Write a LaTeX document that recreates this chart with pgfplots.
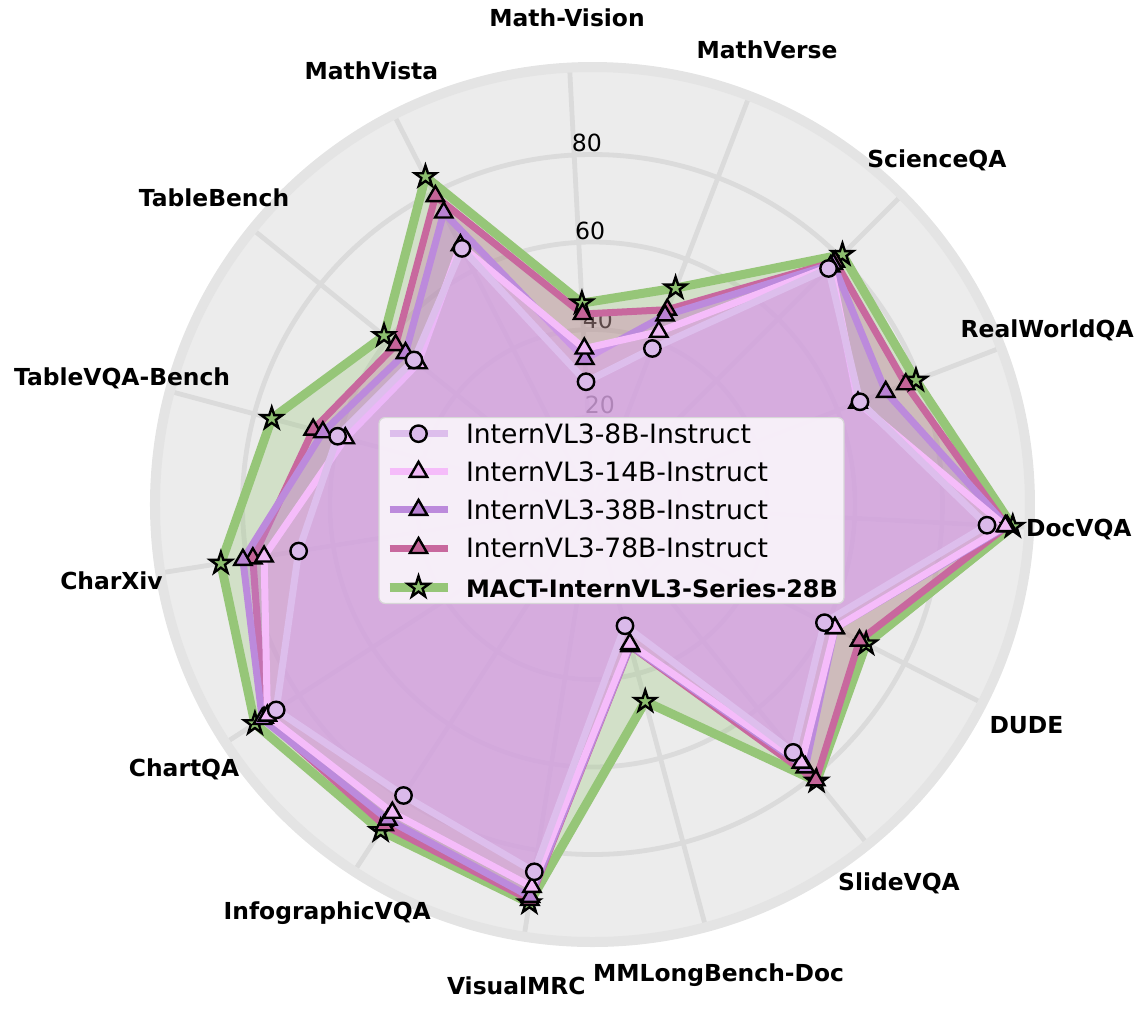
\documentclass[border=0pt]{standalone}
\usepackage{pgfplots}
\pgfplotsset{compat=1.18}
\usepgfplotslibrary{polar}
\usepackage{fontspec}
\setmainfont{DejaVu Sans}

\definecolor{bggray}{RGB}{236,236,236}
\definecolor{gridgray}{RGB}{219,219,219}
\definecolor{ringgray}{RGB}{228,228,228}
\definecolor{legbord}{RGB}{215,215,215}
% line / marker / fill colours
\definecolor{cA}{RGB}{221,190,236}\definecolor{cAm}{RGB}{218,186,234}\definecolor{cAf}{RGB}{218,172,246}
\definecolor{cB}{RGB}{245,188,250}\definecolor{cBm}{RGB}{240,185,245}\definecolor{cBf}{RGB}{244,178,255}
\definecolor{cC}{RGB}{188,138,220}\definecolor{cCm}{RGB}{185,130,212}
\definecolor{cD}{RGB}{200,104,158}\definecolor{cDm}{RGB}{196,100,152}
\definecolor{cE}{RGB}{150,198,120}\definecolor{cEm}{RGB}{140,190,110}

\newcommand{\labfont}{\fontsize{11.7}{14}\selectfont\bfseries}
\newcommand{\tickfont}{\fontsize{11.8}{14}\selectfont}

% filled five-pointed star
\pgfdeclareplotmark{fstar}{%
  \pgfpathmoveto{\pgfpointpolar{90}{\pgfplotmarksize}}%
  \pgfpathlineto{\pgfpointpolar{126}{0.382\pgfplotmarksize}}%
  \pgfpathlineto{\pgfpointpolar{162}{\pgfplotmarksize}}%
  \pgfpathlineto{\pgfpointpolar{198}{0.382\pgfplotmarksize}}%
  \pgfpathlineto{\pgfpointpolar{234}{\pgfplotmarksize}}%
  \pgfpathlineto{\pgfpointpolar{270}{0.382\pgfplotmarksize}}%
  \pgfpathlineto{\pgfpointpolar{306}{\pgfplotmarksize}}%
  \pgfpathlineto{\pgfpointpolar{342}{0.382\pgfplotmarksize}}%
  \pgfpathlineto{\pgfpointpolar{18}{\pgfplotmarksize}}%
  \pgfpathlineto{\pgfpointpolar{54}{0.382\pgfplotmarksize}}%
  \pgfpathclose
  \pgfusepathqfillstroke}

\tikzset{mk/.style={solid, draw=black, line width=1.2pt, fill opacity=1, draw opacity=1, line join=miter, fill=#1}}
\pgfplotsset{
  radar/.style={line width=3.5pt, line join=round, fill opacity=0.3, draw opacity=1,
    mark indices={1,2,3,4,5,6,7,8,9,10,11,12,13,14,15}},
}

\begin{document}
\begin{tikzpicture}
\fill[bggray] (0,0) circle (218.75pt);
\begin{polaraxis}[
  at={(0,0)}, anchor=center,
  width=437.5pt, height=437.5pt, scale only axis,
  xmin=0, xmax=360, ymin=0, ymax=100,
  xtick={21,45,...,357}, ytick={20,40,60,80},
  xticklabels={}, yticklabels={},
  major tick length=0pt,
  xmajorgrids, ymajorgrids,
  grid style={line width=2.4pt, gridgray},
  x axis line style={line width=5pt, ringgray},
  y axis line style={draw=none},
  clip=false,
  reverse legend,
  legend cell align=left,
  legend image code/.code={\draw[mark indices={2}] plot coordinates {(0pt,0pt) (14.5pt,0pt) (29pt,0pt)};},
  legend style={at={(0.5,0.5)}, anchor=center, xshift=9.5pt, yshift=-3pt,
    font=\fontsize{13.3}{15.8}\selectfont, draw=legbord, line width=0.6pt,
    fill=white, fill opacity=0.8, draw opacity=1, text opacity=1,
    rounded corners=3pt, inner xsep=3pt, inner ysep=3.2pt, row sep=9.2pt,
    nodes={inner sep=0pt, text height=9.7pt, text depth=0pt},
    /tikz/every odd column/.append style={column sep=7pt}},
]
% radial tick labels (under the data)
\node[font=\tickfont] at (axis cs:90.87,82.6) {80};
\node[font=\tickfont] at (axis cs:90.5,62.5) {60};
\node[font=\tickfont] at (axis cs:88.3,42.2) {40};
\node[font=\tickfont] at (axis cs:85.7,22.8) {20};

% angle: DocVQA 357, RealWorldQA 21, ScienceQA 45, MathVerse 69, Math-Vision 93,
% MathVista 117, TableBench 141, TableVQA-Bench 165, CharXiv 189, ChartQA 213,
% InfographicVQA 237, VisualMRC 261, MMLongBench-Doc 285, SlideVQA 309, DUDE 333
\addplot[radar, line width=4.5pt, draw=cE, fill=cE, mark=fstar, mark size=5.6pt, mark options={mk=cEm}]
  coordinates {(357,96.2) (21,79.2) (45,80.8) (69,53.0) (93,46.1) (117,84.1) (141,61.3)
  (165,75.9) (189,86.0) (213,92.0) (237,88.9) (261,92.2) (285,46.6) (309,81.4) (333,70.2) (357,96.2)};
\addlegendentry{\fontsize{12}{14}\selectfont\bfseries MACT-InternVL3-Series-28B\hspace{5pt}}

\addplot[radar, draw=cD, fill=cD, mark=triangle*, mark size=5pt, mark options={mk=cDm}]
  coordinates {(357,94.9) (21,76.7) (45,78.5) (69,47.7) (93,43.6) (117,79.1) (141,57.9)
  (165,66.1) (189,78.6) (213,89.5) (237,87.4) (261,91.5) (285,33.5) (309,81.1) (333,68.5) (357,94.9)};
\addlegendentry{InternVL3-78B-Instruct}

\addplot[radar, draw=cC, fill=cC, mark=triangle*, mark size=5pt, mark options={mk=cCm}]
  coordinates {(357,94.9) (21,71.8) (45,77.8) (69,46.3) (93,33.3) (117,74.9) (141,55.0)
  (165,63.8) (189,80.9) (213,90.0) (237,85.9) (261,90.8) (285,33.4) (309,77.3) (333,62.2) (357,94.9)};
\addlegendentry{InternVL3-38B-Instruct}

\addplot[radar, draw=cB, fill=cBf, mark=triangle*, mark size=5pt, mark options={mk=cBm}]
  coordinates {(357,94.5) (21,65.0) (45,77.0) (69,42.3) (93,35.7) (117,66.5) (141,51.3)
  (165,58.5) (189,76.0) (213,88.6) (237,84.0) (261,88.5) (285,33.0) (309,75.9) (333,62.2) (357,94.5)};
\addlegendentry{InternVL3-14B-Instruct}

\addplot[radar, draw=cA, fill=cAf, mark=*, mark size=4.1pt, mark options={mk=cAm}]
  coordinates {(357,90.3) (21,65.5) (45,76.3) (69,38.2) (93,28.1) (117,65.7) (141,52.5)
  (165,60.3) (189,68.0) (213,86.2) (237,79.3) (261,85.0) (285,28.7) (309,72.9) (333,59.5) (357,90.3)};
\addlegendentry{InternVL3-8B-Instruct}
\end{polaraxis}

% category labels
\begin{scope}[every node/.style={font=\labfont}]
\node at (357:243.5pt) {DocVQA};
\node at (21:243.5pt) {RealWorldQA};
\node at (45:243.5pt) {ScienceQA};
\node at (69:243.5pt) {MathVerse};
\node at (93:243.5pt) {Math-Vision};
\node at (117:243.5pt) {MathVista};
\node at (141:243.5pt) {TableBench};
\node at (165:243.5pt) {TableVQA-Bench};
\node at (189:243.5pt) {CharXiv};
\node at (213:243.5pt) {ChartQA};
\node at (237:243.5pt) {InfographicVQA};
\node at (261:243.5pt) {VisualMRC};
\node at (285:243.5pt) {MMLongBench-Doc};
\node at (309:243.5pt) {SlideVQA};
\node at (333:243.5pt) {DUDE};
\end{scope}

\pgfresetboundingbox
\path[use as bounding box] (-296.25pt,-252.25pt) rectangle (274.75pt,252.25pt);
\end{tikzpicture}
\end{document}
